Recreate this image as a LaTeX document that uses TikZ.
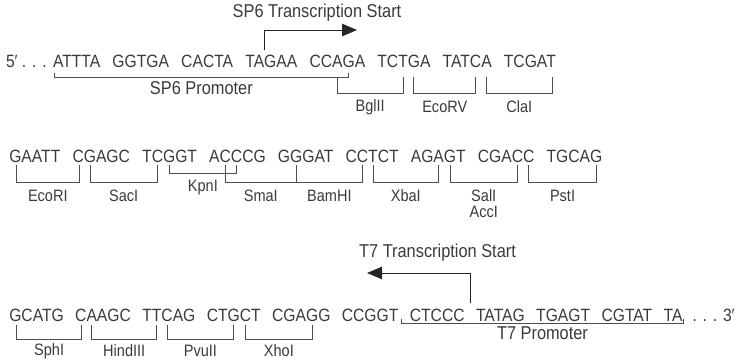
\documentclass[tikz,border=0pt]{standalone}
\usepackage{fontspec}
\setmainfont{Liberation Sans}[FakeStretch=0.88]
\usetikzlibrary{arrows.meta}
\definecolor{ink}{HTML}{3A3A3A}
\definecolor{rule}{HTML}{4D4D4D}
\newcommand\seqfont{\fontsize{17.8}{20}\selectfont}
\newcommand\labfont{\fontsize{16.5}{17.5}\selectfont}
\newcommand\capfont{\fontsize{18.6}{20}\selectfont}
\newdimen\seqgap \seqgap=12.2pt
\newdimen\seqgapc \seqgapc=11.4pt
% invisible marker node #1 over letter #4 that follows prefix #3 in group node #2;
% its centre lies on the centre of that letter
\newcommand\seqmid[4]{%
  \node[seq] (#1-pre) at (#2.base west) {\phantom{#3}};
  \node[seq] (#1) at (#1-pre.base east) {\phantom{#4}};}
% bracket hanging below a site: left, right, top y, bottom y
\newcommand\sitebr[4]{\draw[brk] (#1 |- 0,#3) -- (#1 |- 0,#4) -- (#2 |- 0,#4) -- (#2 |- 0,#3);}
\tikzset{
  seq/.style={font=\seqfont, text=ink, inner sep=0pt, outer sep=0pt, anchor=base west},
  lab/.style={font=\labfont, text=ink, inner sep=0pt, align=center},
  promlab/.style={font=\capfont, text=ink, inner sep=0pt},
  brk/.style={draw=rule, line width=0.9pt},
  arr/.style={draw=black!85, line width=0.9pt, -{Triangle[length=15pt,width=12.5pt]}},
}
\begin{document}
\begin{tikzpicture}[x=1pt, y=-1pt]
\useasboundingbox (0,0) rectangle (740,362);

% ---------- first line ----------
\node[seq] (p5) at (6,67) {5′ . . .};
\node[seq] (a1) at (53,67) {ATTTA};
\node[seq] (a2) at ([xshift=\seqgap]a1.base east) {GGTGA};
\node[seq] (a3) at ([xshift=\seqgap]a2.base east) {CACTA};
\node[seq] (a4) at ([xshift=\seqgap]a3.base east) {TAGAA};
\node[seq] (a5) at ([xshift=\seqgap]a4.base east) {CCAGA};
\node[seq] (a6) at ([xshift=\seqgap]a5.base east) {TCTGA};
\node[seq] (a7) at ([xshift=\seqgap]a6.base east) {TATCA};
\node[seq] (a8) at ([xshift=\seqgap]a7.base east) {TCGAT};

\coordinate (sp6L) at ([xshift=1pt]a1.base west);
\seqmid{sp6R}{a5}{CCA}{G}
\seqmid{sp6G}{a4}{TA}{G}
\coordinate (sp6S) at ([xshift=0.5pt]sp6G.base west);
\seqmid{bglL}{a5}{CC}{A}
\seqmid{bglR}{a6}{TC}{T}
\seqmid{ecvL}{a6}{TCT}{G}
\seqmid{ecvR}{a7}{TAT}{C}
\seqmid{claL}{a7}{TATC}{A}
\seqmid{claR}{a8}{TCGA}{T}

% SP6 promoter and transcription start
\sitebr{sp6L}{sp6R}{73}{77}
\path (sp6L |- 0,88) -- node[promlab] (sp6p) {SP6 Promoter} (sp6R |- 0,88);
\coordinate (sp6tip) at (357,30);
\draw[arr] (sp6S |- 0,50) -- (sp6S |- 0,30) -- (sp6tip);
\node[promlab] (sp6t) at (317,13) {SP6 Transcription Start};

\sitebr{bglL}{bglR}{77}{93}
\sitebr{ecvL}{ecvR}{77}{93}
\sitebr{claL}{claR}{77}{93}
\path (bglL |- 0,107) -- node[lab] (lbgl) {BglII} (bglR |- 0,107);
\path (ecvL |- 0,107) -- node[lab] (lecv) {EcoRV} (ecvR |- 0,107);
\path (claL |- 0,107) -- node[lab] (lcla) {ClaI} (claR |- 0,107);

% ---------- second line ----------
\node[seq] (b1) at (9.3,162) {GAATT};
\node[seq] (b2) at ([xshift=\seqgap]b1.base east) {CGAGC};
\node[seq] (b3) at ([xshift=\seqgap]b2.base east) {TCGGT};
\node[seq] (b4) at ([xshift=\seqgap]b3.base east) {ACCCG};
\node[seq] (b5) at ([xshift=\seqgap]b4.base east) {GGGAT};
\node[seq] (b6) at ([xshift=\seqgap]b5.base east) {CCTCT};
\node[seq] (b7) at ([xshift=\seqgap]b6.base east) {AGAGT};
\node[seq] (b8) at ([xshift=\seqgap]b7.base east) {CGACC};
\node[seq] (b9) at ([xshift=\seqgap]b8.base east) {TGCAG};

\seqmid{ecoL}{b1}{}{G}
\seqmid{ecoR}{b2}{}{C}
\seqmid{sacL}{b2}{C}{G}
\seqmid{sacR}{b3}{T}{C}
\seqmid{kpnL}{b3}{TC}{G}
\seqmid{kpnR}{b4}{AC}{C}
\seqmid{smaL}{b4}{A}{C}
\seqmid{bamL}{b5}{G}{G}
\seqmid{bamR}{b6}{C}{C}
\seqmid{xbaL}{b6}{CC}{T}
\seqmid{xbaR}{b7}{AG}{A}
\seqmid{salL}{b7}{AGA}{G}
\seqmid{salR}{b8}{CGA}{C}
\seqmid{pstL}{b8}{CGAC}{C}
\seqmid{pstR}{b9}{TGCA}{G}

\sitebr{ecoL}{ecoR}{165}{182}
\sitebr{sacL}{sacR}{165}{182}
\sitebr{kpnL}{kpnR}{165}{173}
\sitebr{smaL}{bamL}{165}{182}
\sitebr{bamL}{bamR}{165}{182}
\sitebr{xbaL}{xbaR}{165}{182}
\sitebr{salL}{salR}{165}{182}
\sitebr{pstL}{pstR}{165}{182}
\path (ecoL |- 0,196) -- node[lab] (leco) {EcoRI} (ecoR |- 0,196);
\path (sacL |- 0,196) -- node[lab] (lsac) {SacI} (sacR |- 0,196);
\path (kpnL |- 0,187.5) -- node[lab] (lkpn) {KpnI} (kpnR |- 0,187.5);
\path (smaL |- 0,196) -- node[lab] (lsma) {SmaI} (bamL |- 0,196);
\path (bamL |- 0,196) -- node[lab] (lbam) {BamHI} (bamR |- 0,196);
\path (xbaL |- 0,196) -- node[lab] (lxba) {XbaI} (xbaR |- 0,196);
\path (salL |- 0,196) -- node[lab] (lsal) {SalI} (salR |- 0,196);
\path (salL |- 0,211.5) -- node[lab] (lacc) {AccI} (salR |- 0,211.5);
\path (pstL |- 0,196) -- node[lab] (lpst) {PstI} (pstR |- 0,196);

% ---------- third line ----------
\node[seq] (c1) at (9.3,321) {GCATG};
\node[seq] (c2) at ([xshift=\seqgapc]c1.base east) {CAAGC};
\node[seq] (c3) at ([xshift=\seqgapc]c2.base east) {TTCAG};
\node[seq] (c4) at ([xshift=\seqgapc]c3.base east) {CTGCT};
\node[seq] (c5) at ([xshift=\seqgapc]c4.base east) {CGAGG};
\node[seq] (c6) at ([xshift=\seqgapc]c5.base east) {CCGGT};
\node[seq] (c7) at ([xshift=\seqgapc]c6.base east) {CTCCC};
\node[seq] (c8) at ([xshift=\seqgapc]c7.base east) {TATAG};
\node[seq] (c9) at ([xshift=\seqgapc]c8.base east) {TGAGT};
\node[seq] (c10) at ([xshift=\seqgapc]c9.base east) {CGTAT};
\node[seq] (c11) at ([xshift=\seqgapc]c10.base east) {TA};
\node[seq] (p3) at ([xshift=10pt]c11.base east) {. . . 3′};

\seqmid{sphL}{c1}{}{G}
\seqmid{sphR}{c2}{}{C}
\seqmid{hinL}{c2}{C}{A}
\seqmid{hinR}{c3}{T}{T}
\seqmid{pvuL}{c3}{TT}{C}
\seqmid{pvuR}{c4}{CT}{G}
\seqmid{xhoL}{c4}{CTG}{C}
\seqmid{xhoR}{c5}{CGA}{G}
\coordinate (t7S) at ([xshift=0.5\seqgapc]c7.base east);
\coordinate (t7L) at ([xshift=3pt]c6.base east);
\coordinate (t7R) at ([xshift=1pt]c11.base east);

\sitebr{sphL}{sphR}{325}{339}
\sitebr{hinL}{hinR}{325}{339}
\sitebr{pvuL}{pvuR}{325}{339}
\sitebr{xhoL}{xhoR}{325}{339}
\path (sphL |- 0,351) -- node[lab] (lsph) {SphI} (sphR |- 0,351);
\path (hinL |- 0,351) -- node[lab] (lhin) {HindIII} (hinR |- 0,351);
\path (pvuL |- 0,351) -- node[lab] (lpvu) {PvuII} (pvuR |- 0,351);
\path (xhoL |- 0,351) -- node[lab] (lxho) {XhoI} (xhoR |- 0,351);

% T7 promoter and transcription start
\sitebr{t7L}{t7R}{319}{323}
\path (t7L |- 0,333) -- node[promlab] (t7p) {T7 Promoter} (t7R |- 0,333);
\coordinate (t7tip) at (367,273);
\draw[arr] (t7S |- 0,303) -- (t7S |- 0,273) -- (t7tip);
\node[promlab] (t7t) at (437.5,253) {T7 Transcription Start};
\end{tikzpicture}
\end{document}
